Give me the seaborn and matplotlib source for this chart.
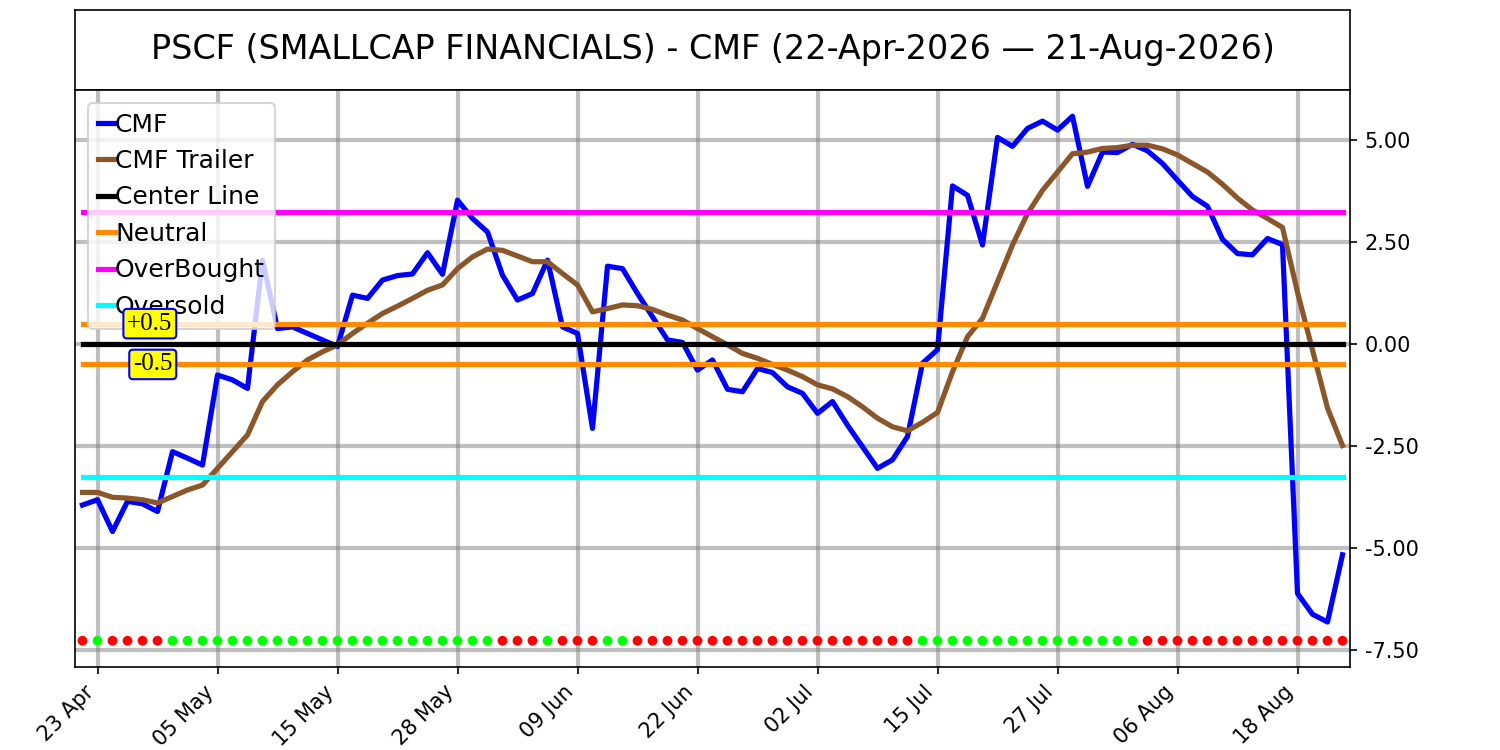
import numpy as np
import pandas as pd
import matplotlib
matplotlib.use("Agg")
import matplotlib.pyplot as plt
import seaborn as sns

# =========================
# DATA
# =========================
TITLE = "PSCF (SMALLCAP FINANCIALS) - CMF (22-Apr-2026 \u2014 21-Aug-2026)"
START, END = "2026-04-22", "2026-08-21"
HOLIDAYS = ["2026-05-25", "2026-06-19", "2026-07-03"]

cmf = [-3.95, -3.82, -4.60, -3.86, -3.92, -4.11, -2.64, -2.80, -2.97, -0.76,
       -0.88, -1.09, 2.06, 0.38, 0.42, 0.26, 0.10, -0.06, 1.20, 1.12,
       1.57, 1.68, 1.72, 2.24, 1.71, 3.53, 3.08, 2.75, 1.69, 1.08,
       1.24, 2.06, 0.42, 0.26, -2.07, 1.91, 1.85, 1.24, 0.67, 0.10,
       0.04, -0.64, -0.39, -1.11, -1.17, -0.60, -0.70, -1.05, -1.21, -1.70,
       -1.41, -1.99, -2.52, -3.05, -2.84, -2.27, -0.47, -0.14, 3.88, 3.65,
       2.43, 5.07, 4.85, 5.29, 5.47, 5.25, 5.59, 3.87, 4.71, 4.70,
       4.90, 4.74, 4.43, 4.02, 3.62, 3.38, 2.57, 2.22, 2.19, 2.59,
       2.44, -6.12, -6.63, -6.82, -5.17]

cmf_trailer = [-3.64, -3.64, -3.76, -3.78, -3.82, -3.90, -3.74, -3.58, -3.46, -3.05,
               -2.64, -2.23, -1.41, -1.00, -0.68, -0.39, -0.19, -0.02, 0.26, 0.51,
               0.75, 0.93, 1.12, 1.32, 1.45, 1.85, 2.14, 2.33, 2.30, 2.16,
               2.02, 2.02, 1.73, 1.45, 0.79, 0.87, 0.96, 0.94, 0.85, 0.71,
               0.59, 0.38, 0.18, -0.02, -0.23, -0.35, -0.50, -0.64, -0.80, -1.00,
               -1.10, -1.29, -1.54, -1.82, -2.03, -2.13, -1.92, -1.68, -0.68, 0.18,
               0.63, 1.53, 2.43, 3.20, 3.77, 4.22, 4.67, 4.71, 4.80, 4.82,
               4.88, 4.88, 4.79, 4.64, 4.43, 4.22, 3.92, 3.58, 3.29, 3.08,
               2.86, 1.27, -0.15, -1.57, -2.49]

# signal dots: 1 = green, 0 = red
signal = [0, 1, 0, 0, 0, 0, 1, 1, 1, 1,
          1, 1, 1, 1, 1, 1, 1, 1, 1, 1,
          1, 1, 1, 1, 1, 1, 1, 1, 0, 0,
          0, 1, 0, 0, 0, 1, 1, 0, 0, 0,
          0, 0, 0, 0, 0, 0, 0, 0, 0, 0,
          0, 0, 0, 0, 0, 0, 1, 1, 1, 1,
          1, 1, 1, 1, 1, 1, 1, 1, 1, 1,
          1, 0, 0, 0, 0, 0, 0, 0, 0, 0,
          0, 0, 0, 0, 0]
DOT_LEVEL = -7.28

CENTER = 0.0
NEUTRAL = 0.5
OVERBOUGHT = 3.25
OVERSOLD = -3.25

dates = pd.bdate_range(START, END, freq="C", holidays=HOLIDAYS)
idx = np.arange(len(cmf))
tick_pos = idx[1::8]
tick_labels = [dates[i].strftime("%d %b") for i in tick_pos]

# =========================
# PLOT
# =========================
fig = plt.figure(figsize=(10, 5), dpi=150)
ax_t = fig.add_axes([0.05, 0.88, 0.85, 0.1067])
ax = fig.add_axes([0.05, 0.1107, 0.85, 0.7693])

ax_t.set_xticks([])
ax_t.set_yticks([])
ax_t.text(0.5, 0.5, TITLE, ha="center", va="center", fontsize=16,
          transform=ax_t.transAxes)

ax.grid(True, color="gray", alpha=0.5, linewidth=2)
ax.set_axisbelow(True)

LW = 2.5
sns.lineplot(x=idx, y=cmf, ax=ax, color="blue", linewidth=LW, label="CMF")
sns.lineplot(x=idx, y=cmf_trailer, ax=ax, color="#8B572A", linewidth=LW,
             label="CMF Trailer")
ax.plot(idx, np.full(len(idx), CENTER), color="black", lw=LW, label="Center Line")
ax.plot(idx, np.full(len(idx), NEUTRAL), color="#FF8C00", lw=LW, label="Neutral")
ax.plot(idx, np.full(len(idx), -NEUTRAL), color="#FF8C00", lw=LW)
ax.plot(idx, np.full(len(idx), OVERBOUGHT), color="#FF00FF", lw=LW, label="OverBought")
ax.plot(idx, np.full(len(idx), OVERSOLD), color="#00FFFF", lw=LW, label="Oversold")

dot_colors = ["#00FF00" if s else "#FF0000" for s in signal]
ax.scatter(idx, np.full(len(idx), DOT_LEVEL), c=dot_colors, s=22, zorder=3,
           linewidths=0)

bbox = dict(boxstyle="round,pad=0.15", facecolor="yellow", edgecolor="blue", lw=1)
ax.text(6.0, NEUTRAL, "+0.5", ha="right", va="center", fontsize=12,
        family="Liberation Serif", bbox=bbox, zorder=6)
ax.text(6.0, -NEUTRAL, "-0.5", ha="right", va="center", fontsize=12,
        family="Liberation Serif", bbox=bbox, zorder=6)

ax.set_xlim(-0.5, 84.5)
ax.set_xticks(tick_pos)
ax.set_xticklabels(tick_labels, rotation=45, ha="right", fontsize=10)
ax.yaxis.tick_right()
ax.set_yticks([5, 2.5, 0, -2.5, -5, -7.5])
ax.yaxis.set_major_formatter(matplotlib.ticker.FormatStrFormatter("%.2f"))
ax.set_xlabel("")
ax.set_ylabel("")

ax.legend(loc="upper left", fontsize=12, handlelength=0.7, handletextpad=0.0,
          labelspacing=0.5)

fig.savefig("out.png", dpi=150)
